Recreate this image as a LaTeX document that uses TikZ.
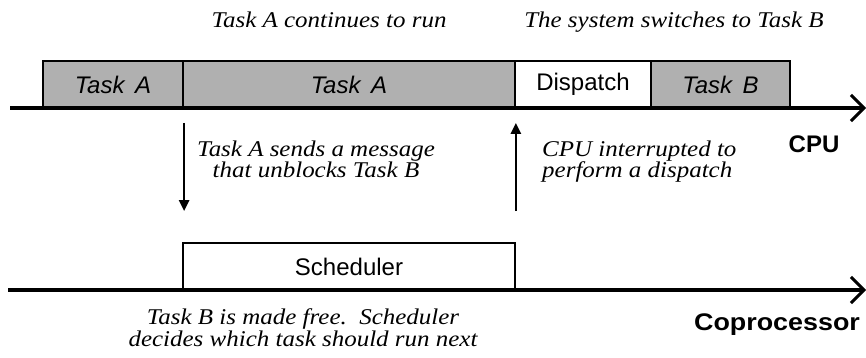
\documentclass[tikz,border=0pt]{standalone}
\usepackage{fontspec}
\usepackage{graphicx}
\setmainfont{Liberation Serif}
\setsansfont{Liberation Sans}
\usetikzlibrary{arrows.meta}
\definecolor{taskgray}{RGB}{176,176,176}
% widened italic caption lines
\newcommand\capline[1]{\scalebox{1.11}[1]{#1}}
\tikzset{
  slot/.style={draw=black, line width=1.8pt, inner sep=0pt, minimum height=47pt,
    font=\sffamily\fontsize{24}{26}\selectfont},
  busy/.style={slot, fill=taskgray, font=\sffamily\itshape\fontsize{24}{26}\selectfont},
  idle/.style={slot, fill=white},
  timeline/.style={line width=4pt, -{Straight Barb[length=13pt,width=26pt,line width=3pt]}},
  signal/.style={line width=2.6pt, -{Triangle[length=11pt,width=10pt]}},
  note/.style={font=\itshape\fontsize{22.5}{21.5}\selectfont,
    execute at begin node={\lineskiplimit=-30pt\relax},
    align=center, inner sep=0pt, anchor=base},
  lane/.style={font=\sffamily\bfseries\fontsize{24}{26}\selectfont, inner sep=0pt, anchor=base}
}
\begin{document}
\begin{tikzpicture}[x=1pt,y=-1pt]
  \useasboundingbox (0,0) rectangle (866,358);

  % time axes
  \coordinate (cpuL) at (10,108);
  \coordinate (cpuR) at (866,108);
  \coordinate (copL) at (8,290);
  \coordinate (copR) at (866,290);

  % CPU activity
  \node[busy, minimum width=140pt] (ta1) at (113,84.5) {Task\,  A};
  \node[busy, minimum width=332pt] (ta2) at (349,84.5) {Task\,  A};
  \node[idle, minimum width=136pt] (disp) at (583,84.5) {Dispatch};
  \node[busy, minimum width=139pt] (tb) at (720.5,84.5) {Task\,  B};

  % coprocessor activity
  \node[idle, minimum width=332pt] (sch) at (349,266.5) {Scheduler};

  \draw[timeline] (cpuL) -- (cpuR);
  \draw[timeline] (copL) -- (copR);

  % signals between the processors
  \draw[signal] ([xshift=2pt,yshift=-14pt]ta2.south west) -- ([xshift=2pt,yshift=31pt]sch.north west);
  \draw[signal] ([yshift=31pt]sch.north east) -- ([yshift=-14pt]ta2.south east);

  % captions (base anchor sits on the last line)
  \node[note] (c1) at (329,28) {\capline{Task A continues to run}};
  \node[note] (c2) at (674,28) {\capline{The system switches to Task B}};
  \node[note] (c3) at (316,178) {\capline{Task A sends a message}\\\capline{that unblocks Task B}};
  \node[note, align=left, anchor=base west] (c4) at (542,178) {\capline{CPU interrupted to}\\\capline{perform a dispatch}};
  \node[note] (c5) at (303,346) {\capline{Task B is made free.\ \ Scheduler}\\\capline{decides which task should run next}};

  \node[lane] (cpu) at (814,153) {CPU};
  \node[lane] (cop) at (777,330) {\scalebox{1.12}[1]{Coprocessor}};
\end{tikzpicture}
\end{document}
